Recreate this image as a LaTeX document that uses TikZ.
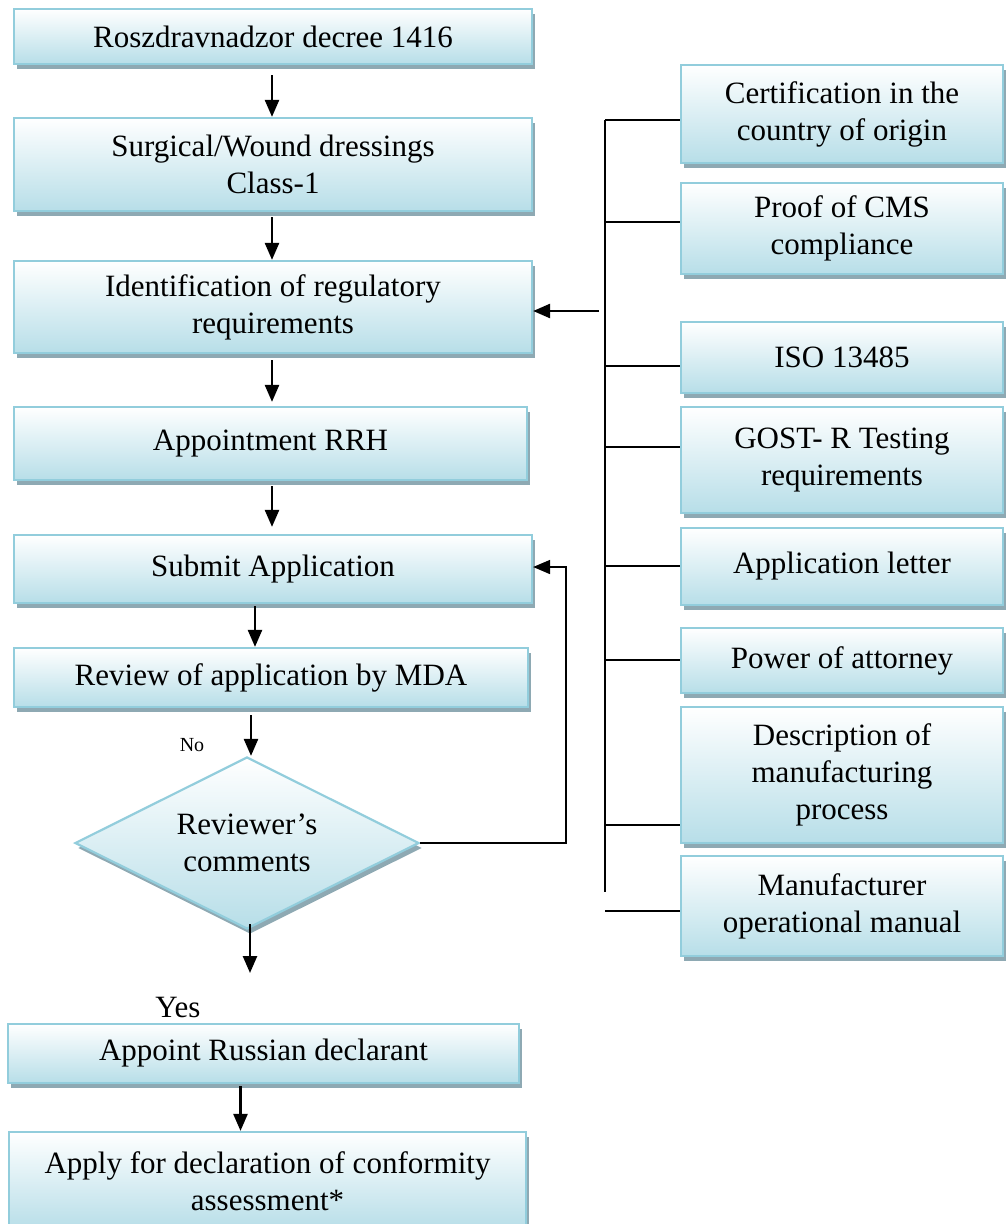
\documentclass[tikz,border=0pt]{standalone}
\usepackage{fontspec}
\setmainfont{Liberation Serif}
\usetikzlibrary{shapes.geometric,shadows,arrows.meta}
\definecolor{edgeblue}{HTML}{92CDDC}
\definecolor{fillblue}{HTML}{B7DEE8}
\definecolor{shadowgrey}{HTML}{8EA9B3}
\tikzset{
  boxbase/.style={draw=edgeblue, line width=2.2pt, top color=white, bottom color=fillblue,
    drop shadow={shadow xshift=3pt, shadow yshift=-5pt, fill=shadowgrey, opacity=1},
    align=center, inner sep=0pt, font=\fontsize{31}{37}\selectfont},
  stepbox/.style={boxbase, rectangle},
  sidebox/.style={stepbox, minimum width=322pt},
  decision/.style={boxbase, diamond, aspect=2.05},
  arr/.style={line width=2.5pt, -{Triangle[length=17pt,width=14pt]}},
  link/.style={line width=2pt},
  lbl/.style={inner sep=0pt, font=\fontsize{31}{37}\selectfont},
}
\begin{document}
\begin{tikzpicture}[x=1pt,y=-1pt]
\useasboundingbox (0,0) rectangle (1005,1224);

% main flow
\node[stepbox, minimum width=518pt, minimum height=55pt] (B1) at (273,36.5) {Roszdravnadzor decree 1416};
\node[stepbox, minimum width=518pt, minimum height=93pt] (B2) at (273,164.5) {Surgical/Wound dressings\\Class-1};
\node[stepbox, minimum width=518pt, minimum height=92pt] (B3) at (273,307) {Identification of regulatory\\requirements};
\node[stepbox, minimum width=513pt, minimum height=73pt] (B4) at (270.5,443.5) {Appointment RRH};
\node[stepbox, minimum width=518pt, minimum height=68pt] (B5) at (273,569) {Submit Application};
\node[stepbox, minimum width=514pt, minimum height=59pt] (B6) at (271,677.5) {Review of application by MDA};
\node[decision, minimum width=344pt, minimum height=172pt] (D) at (247,843) {Reviewer’s\\comments};
\node[stepbox, minimum width=511pt, minimum height=59pt] (B7) at (263.5,1053.5) {Appoint Russian declarant};
\node[stepbox, minimum width=517pt, minimum height=98pt] (B8) at (267.5,1181) {Apply for declaration of conformity\\assessment*};

\node[inner sep=0pt, font=\fontsize{20}{24}\selectfont] (no) at (192,745) {No};
\node[lbl] (yes) at (178,1007) {Yes};

% requirement documents
\node[sidebox, minimum height=98pt]  (R1) at (842,114)   {Certification in the\\country of origin};
\node[sidebox, minimum height=91pt]  (R2) at (842,228.5) {Proof of CMS\\compliance};
\node[sidebox, minimum height=71pt]  (R3) at (842,357.5) {ISO 13485};
\node[sidebox, minimum height=106pt] (R4) at (842,460)   {GOST- R Testing\\requirements};
\node[sidebox, minimum height=77pt]  (R5) at (842,566.5) {Application letter};
\node[sidebox, minimum height=65pt]  (R6) at (842,660.5) {Power of attorney};
\node[sidebox, minimum height=136pt] (R7) at (842,775)   {Description of\\manufacturing\\process};
\node[sidebox, minimum height=100pt] (R8) at (842,906)   {Manufacturer\\operational manual};

% spine collecting the documents
\coordinate (s1) at (605,120);
\coordinate (s2) at (605,222);
\coordinate (s3) at (605,366);
\coordinate (s4) at (605,447);
\coordinate (s5) at (605,566);
\coordinate (s6) at (605,660);
\coordinate (s7) at (605,825);
\coordinate (send) at (605,892);
\coordinate (s8) at (605,911);
\coordinate (feed) at (599,311);

\draw[link] (s1) -- (send);
\draw[link] (s1) -- (s1 -| R1.west);
\draw[link] (s2) -- (s2 -| R2.west);
\draw[link] (s3) -- (s3 -| R3.west);
\draw[link] (s4) -- (s4 -| R4.west);
\draw[link] (s5) -- (s5 -| R5.west);
\draw[link] (s6) -- (s6 -| R6.west);
\draw[link] (s7) -- (s7 -| R7.west);
\draw[link] (s8) -- (s8 -| R8.west);
\draw[arr] (feed) -- (feed -| B3.east);

% flow arrows (kept vertical)
\draw[arr] ([xshift=-1pt,yshift=-10pt]B1.south) coordinate (t1) -- (t1 |- B2.north);
\draw[arr] ([xshift=-1pt,yshift=-5pt]B2.south) coordinate (t2) -- (t2 |- B3.north);
\draw[arr, shorten >=4pt] ([xshift=-1pt,yshift=-6pt]B3.south) coordinate (t3) -- (t3 |- B4.north);
\draw[arr, shorten >=7pt] ([xshift=1.5pt,yshift=-5pt]B4.south) coordinate (t4) -- (t4 |- B5.north);
\draw[arr] ([xshift=-18pt,yshift=-2pt]B5.south) coordinate (t5) -- (t5 |- B6.north);
\draw[arr] ([xshift=-20pt,yshift=-7pt]B6.south) coordinate (t6) -- (t6 |- D.north);
\coordinate (yesend) at (250,973);
\draw[arr] (yesend |- D.south) ++(0,-6) -- (yesend);
\draw[arr] ([xshift=-23pt,yshift=-2pt]B7.south) coordinate (t7) -- (t7 |- B8.north);

% loop back to resubmission
\draw[arr, line width=1.6pt] (D.east) -- ++(146,0) |- ([yshift=2pt]B5.east);
\end{tikzpicture}
\end{document}
